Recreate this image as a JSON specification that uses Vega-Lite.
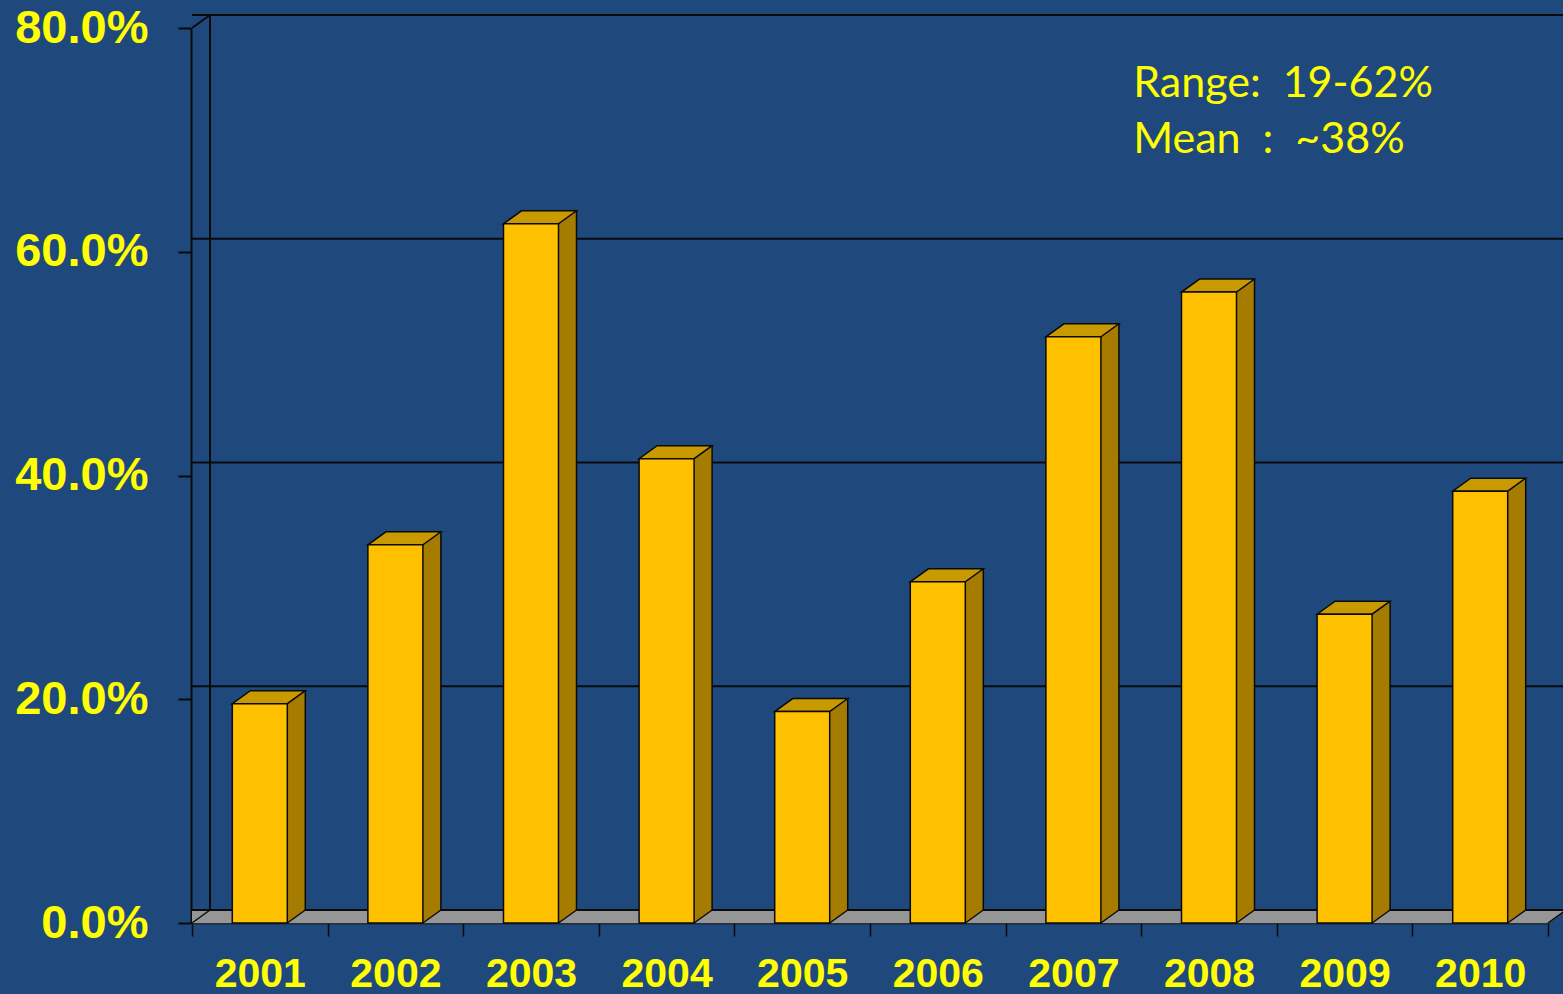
{
  "$schema": "https://vega.github.io/schema/vega-lite/v6.json",
  "width": 1356,
  "height": 895,
  "autosize": {"type": "none"},
  "padding": {"left": 192, "top": 28, "right": 15, "bottom": 71},
  "background": "#1F497D",
  "config": {
    "view": {"stroke": null},
    "axis": {"title": null, "grid": false, "tickColor": "#0A0A0A", "domainColor": "#0A0A0A", "labelFont": "Liberation Sans", "labelFontWeight": "bold", "labelColor": "#FFFF00", "tickSize": 13, "zindex": 1},
    "axisX": {"labelAngle": 0, "tickBand": "extent", "tickWidth": 1.5, "domainWidth": 1.5, "labelFontSize": 41, "labelPadding": 18},
    "axisY": {"tickWidth": 2, "domainWidth": 2, "labelFontSize": 47, "labelPadding": 30, "offset": 1}
  },
  "data": {"values": [
    {"year": "2001", "value": 19.6},
    {"year": "2002", "value": 33.8},
    {"year": "2003", "value": 62.5},
    {"year": "2004", "value": 41.5},
    {"year": "2005", "value": 18.9},
    {"year": "2006", "value": 30.5},
    {"year": "2007", "value": 52.4},
    {"year": "2008", "value": 56.4},
    {"year": "2009", "value": 27.6},
    {"year": "2010", "value": 38.6}
  ]},
  "layer": [
    {"mark": {"type": "bar", "width": 55, "fill": "#FFC000", "stroke": "#0A0A0A", "strokeWidth": 1.5, "opacity": 0},
     "encoding": {
       "x": {"field": "year", "type": "ordinal", "scale": {"paddingInner": 0, "paddingOuter": 0},
             "axis": {"title": null, "orient": "bottom", "labelAngle": 0, "tickBand": "extent"}},
       "y": {"field": "value", "type": "quantitative", "scale": {"domain": [0, 80], "nice": false},
             "axis": {"title": null, "values": [0, 20, 40, 60, 80], "labelExpr": "format(datum.value, '.1f') + '%'", "grid": false}}
     }},
    {"data": {"values": [{}]}, "mark": {"type": "rule", "stroke": "#969696", "strokeWidth": 1.3, "yOffset": -0.5, "xOffset": 0.692, "x2Offset": 0.692}, "encoding": {"y": {"datum": 0, "type": "quantitative"}}},
    {"data": {"values": [{}]}, "mark": {"type": "rule", "stroke": "#969696", "strokeWidth": 1.3, "yOffset": -1.5, "xOffset": 2.077, "x2Offset": 2.077}, "encoding": {"y": {"datum": 0, "type": "quantitative"}}},
    {"data": {"values": [{}]}, "mark": {"type": "rule", "stroke": "#969696", "strokeWidth": 1.3, "yOffset": -2.5, "xOffset": 3.462, "x2Offset": 3.462}, "encoding": {"y": {"datum": 0, "type": "quantitative"}}},
    {"data": {"values": [{}]}, "mark": {"type": "rule", "stroke": "#969696", "strokeWidth": 1.3, "yOffset": -3.5, "xOffset": 4.846, "x2Offset": 4.846}, "encoding": {"y": {"datum": 0, "type": "quantitative"}}},
    {"data": {"values": [{}]}, "mark": {"type": "rule", "stroke": "#969696", "strokeWidth": 1.3, "yOffset": -4.5, "xOffset": 6.231, "x2Offset": 6.231}, "encoding": {"y": {"datum": 0, "type": "quantitative"}}},
    {"data": {"values": [{}]}, "mark": {"type": "rule", "stroke": "#969696", "strokeWidth": 1.3, "yOffset": -5.5, "xOffset": 7.615, "x2Offset": 7.615}, "encoding": {"y": {"datum": 0, "type": "quantitative"}}},
    {"data": {"values": [{}]}, "mark": {"type": "rule", "stroke": "#969696", "strokeWidth": 1.3, "yOffset": -6.5, "xOffset": 9, "x2Offset": 9}, "encoding": {"y": {"datum": 0, "type": "quantitative"}}},
    {"data": {"values": [{}]}, "mark": {"type": "rule", "stroke": "#969696", "strokeWidth": 1.3, "yOffset": -7.5, "xOffset": 10.385, "x2Offset": 10.385}, "encoding": {"y": {"datum": 0, "type": "quantitative"}}},
    {"data": {"values": [{}]}, "mark": {"type": "rule", "stroke": "#969696", "strokeWidth": 1.3, "yOffset": -8.5, "xOffset": 11.769, "x2Offset": 11.769}, "encoding": {"y": {"datum": 0, "type": "quantitative"}}},
    {"data": {"values": [{}]}, "mark": {"type": "rule", "stroke": "#969696", "strokeWidth": 1.3, "yOffset": -9.5, "xOffset": 13.154, "x2Offset": 13.154}, "encoding": {"y": {"datum": 0, "type": "quantitative"}}},
    {"data": {"values": [{}]}, "mark": {"type": "rule", "stroke": "#969696", "strokeWidth": 1.3, "yOffset": -10.5, "xOffset": 14.538, "x2Offset": 14.538}, "encoding": {"y": {"datum": 0, "type": "quantitative"}}},
    {"data": {"values": [{}]}, "mark": {"type": "rule", "stroke": "#969696", "strokeWidth": 1.3, "yOffset": -11.5, "xOffset": 15.923, "x2Offset": 15.923}, "encoding": {"y": {"datum": 0, "type": "quantitative"}}},
    {"data": {"values": [{}]}, "mark": {"type": "rule", "stroke": "#969696", "strokeWidth": 1.3, "yOffset": -12.5, "xOffset": 17.308, "x2Offset": 17.308}, "encoding": {"y": {"datum": 0, "type": "quantitative"}}},
    {"data": {"values": [{}]}, "mark": {"type": "rule", "stroke": "#0A0A0A", "strokeWidth": 2, "yOffset": -13, "xOffset": 18, "x2Offset": 18}, "encoding": {"y": {"datum": 0, "type": "quantitative"}}},
    {"data": {"values": [{}]}, "mark": {"type": "rule", "stroke": "#0A0A0A", "strokeWidth": 2, "yOffset": -13, "xOffset": 18, "x2Offset": 18}, "encoding": {"y": {"datum": 20, "type": "quantitative"}}},
    {"data": {"values": [{}]}, "mark": {"type": "rule", "stroke": "#0A0A0A", "strokeWidth": 2, "yOffset": -13, "xOffset": 18, "x2Offset": 18}, "encoding": {"y": {"datum": 40, "type": "quantitative"}}},
    {"data": {"values": [{}]}, "mark": {"type": "rule", "stroke": "#0A0A0A", "strokeWidth": 2, "yOffset": -13, "xOffset": 18, "x2Offset": 18}, "encoding": {"y": {"datum": 60, "type": "quantitative"}}},
    {"data": {"values": [{}]}, "mark": {"type": "rule", "stroke": "#0A0A0A", "strokeWidth": 2, "yOffset": -13, "xOffset": 18, "x2Offset": 18}, "encoding": {"y": {"datum": 80, "type": "quantitative"}}},
    {"data": {"values": [{}]}, "mark": {"type": "rule", "stroke": "#0A0A0A", "strokeWidth": 2, "xOffset": 18, "yOffset": -13, "y2Offset": -13}, "encoding": {"x": {"datum": "2001", "type": "ordinal", "bandPosition": 0}, "y": {"datum": 0, "type": "quantitative"}, "y2": {"datum": 80}}},
    {"data": {"values": [{}]}, "mark": {"type": "point", "shape": "M-1,0.7222L1,-0.7222", "size": 324, "filled": false, "stroke": "#0A0A0A", "strokeWidth": 2, "opacity": 1, "xOffset": 9, "yOffset": -6.5}, "encoding": {"x": {"datum": "2001", "type": "ordinal", "bandPosition": 0}, "y": {"datum": 80, "type": "quantitative"}}},
    {"data": {"values": [{}]}, "mark": {"type": "point", "shape": "M-1,0.7222L1,-0.7222", "size": 324, "filled": false, "stroke": "#0A0A0A", "strokeWidth": 1.5, "opacity": 1, "xOffset": 9, "yOffset": -6.5}, "encoding": {"x": {"datum": "2001", "type": "ordinal", "bandPosition": 0}, "y": {"datum": 0, "type": "quantitative"}}},
    {"data": {"values": [{}]}, "mark": {"type": "point", "shape": "M-1,0.7222L1,-0.7222", "size": 324, "filled": false, "stroke": "#0A0A0A", "strokeWidth": 1.5, "opacity": 1, "xOffset": 9, "yOffset": -6.5}, "encoding": {"x": {"datum": "2010", "type": "ordinal", "bandPosition": 1}, "y": {"datum": 0, "type": "quantitative"}}},
    {"mark": {"type": "bar", "width": 55, "fill": "#A67C00", "strokeWidth": 0, "xOffset": 1.385, "yOffset": -1, "y2Offset": -1}, "encoding": {"x": {"field": "year", "type": "ordinal"}, "y": {"field": "value", "type": "quantitative"}}},
    {"mark": {"type": "bar", "width": 55, "fill": "#A67C00", "strokeWidth": 0, "xOffset": 2.769, "yOffset": -2, "y2Offset": -2}, "encoding": {"x": {"field": "year", "type": "ordinal"}, "y": {"field": "value", "type": "quantitative"}}},
    {"mark": {"type": "bar", "width": 55, "fill": "#A67C00", "strokeWidth": 0, "xOffset": 4.154, "yOffset": -3, "y2Offset": -3}, "encoding": {"x": {"field": "year", "type": "ordinal"}, "y": {"field": "value", "type": "quantitative"}}},
    {"mark": {"type": "bar", "width": 55, "fill": "#A67C00", "strokeWidth": 0, "xOffset": 5.538, "yOffset": -4, "y2Offset": -4}, "encoding": {"x": {"field": "year", "type": "ordinal"}, "y": {"field": "value", "type": "quantitative"}}},
    {"mark": {"type": "bar", "width": 55, "fill": "#A67C00", "strokeWidth": 0, "xOffset": 6.923, "yOffset": -5, "y2Offset": -5}, "encoding": {"x": {"field": "year", "type": "ordinal"}, "y": {"field": "value", "type": "quantitative"}}},
    {"mark": {"type": "bar", "width": 55, "fill": "#A67C00", "strokeWidth": 0, "xOffset": 8.308, "yOffset": -6, "y2Offset": -6}, "encoding": {"x": {"field": "year", "type": "ordinal"}, "y": {"field": "value", "type": "quantitative"}}},
    {"mark": {"type": "bar", "width": 55, "fill": "#A67C00", "strokeWidth": 0, "xOffset": 9.692, "yOffset": -7, "y2Offset": -7}, "encoding": {"x": {"field": "year", "type": "ordinal"}, "y": {"field": "value", "type": "quantitative"}}},
    {"mark": {"type": "bar", "width": 55, "fill": "#A67C00", "strokeWidth": 0, "xOffset": 11.077, "yOffset": -8, "y2Offset": -8}, "encoding": {"x": {"field": "year", "type": "ordinal"}, "y": {"field": "value", "type": "quantitative"}}},
    {"mark": {"type": "bar", "width": 55, "fill": "#A67C00", "strokeWidth": 0, "xOffset": 12.462, "yOffset": -9, "y2Offset": -9}, "encoding": {"x": {"field": "year", "type": "ordinal"}, "y": {"field": "value", "type": "quantitative"}}},
    {"mark": {"type": "bar", "width": 55, "fill": "#A67C00", "strokeWidth": 0, "xOffset": 13.846, "yOffset": -10, "y2Offset": -10}, "encoding": {"x": {"field": "year", "type": "ordinal"}, "y": {"field": "value", "type": "quantitative"}}},
    {"mark": {"type": "bar", "width": 55, "fill": "#A67C00", "strokeWidth": 0, "xOffset": 15.231, "yOffset": -11, "y2Offset": -11}, "encoding": {"x": {"field": "year", "type": "ordinal"}, "y": {"field": "value", "type": "quantitative"}}},
    {"mark": {"type": "bar", "width": 55, "fill": "#A67C00", "strokeWidth": 0, "xOffset": 16.615, "yOffset": -12, "y2Offset": -12}, "encoding": {"x": {"field": "year", "type": "ordinal"}, "y": {"field": "value", "type": "quantitative"}}},
    {"mark": {"type": "bar", "width": 55, "fill": "#A67C00", "strokeWidth": 0, "xOffset": 18, "yOffset": -13, "y2Offset": -13}, "encoding": {"x": {"field": "year", "type": "ordinal"}, "y": {"field": "value", "type": "quantitative"}}},
    {"mark": {"type": "rule", "stroke": "#0A0A0A", "strokeWidth": 1.5, "xOffset": 45.5, "yOffset": -13, "y2Offset": -13}, "encoding": {"x": {"field": "year", "type": "ordinal"}, "y": {"field": "value", "type": "quantitative"}, "y2": {"datum": 0}}},
    {"mark": {"type": "point", "shape": "M-1,0.7222L1,-0.7222", "size": 324, "filled": false, "stroke": "#0A0A0A", "strokeWidth": 1.5, "opacity": 1, "xOffset": 36.5, "yOffset": -6.5}, "encoding": {"x": {"field": "year", "type": "ordinal"}, "y": {"datum": 0, "type": "quantitative"}}},
    {"mark": {"type": "point", "shape": "M-1,0.1781L0.5068,0.1781L1,-0.1781L-0.5068,-0.1781Z", "size": 5329, "filled": true, "fill": "#C99A00", "stroke": "#0A0A0A", "strokeWidth": 1.5, "opacity": 1, "xOffset": 9, "yOffset": -6.5}, "encoding": {"x": {"field": "year", "type": "ordinal"}, "y": {"field": "value", "type": "quantitative"}}},
    {"mark": {"type": "bar", "width": 55, "fill": "#FFC000", "stroke": "#0A0A0A", "strokeWidth": 1.5},
     "encoding": {"x": {"field": "year", "type": "ordinal"}, "y": {"field": "value", "type": "quantitative"}}},
    {"data": {"values": [{}]}, "mark": {"type": "text", "align": "left", "baseline": "alphabetic", "font": "Lato", "fontSize": 43, "color": "#FFFF00", "lineHeight": 56, "xOffset": -8},
     "encoding": {"x": {"datum": "2008", "type": "ordinal", "bandPosition": 0}, "y": {"datum": 73.8, "type": "quantitative"}, "text": {"value": ["Range:\u00a0\u00a019-62%", "Mean\u00a0\u00a0:\u00a0\u00a0~38%"]}}}
  ]
}
